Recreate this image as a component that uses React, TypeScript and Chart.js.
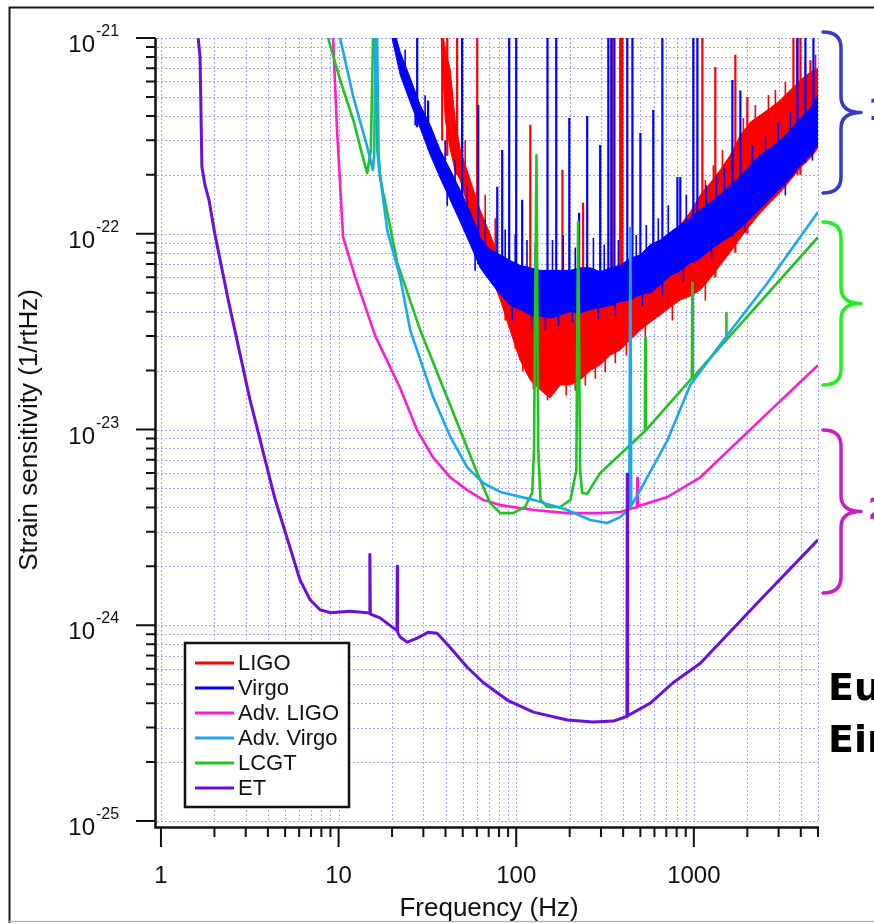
import React, { useEffect, useRef } from 'react';
import { Chart, registerables } from 'chart.js';

Chart.register(...registerables);

// ---------------- data ----------------
const seriesLabels = ['LIGO', 'Virgo', 'Adv. LIGO', 'Adv. Virgo', 'LCGT', 'ET'];
const seriesColors = ['#ff0000', '#0000ff', '#ff1ccf', '#1aa8f0', '#1fc41f', '#6a0fdc'];

// LIGO noise band (upper / lower envelope), narrow lines and edge jags
const ligoFreq = [37.8, 39.9, 42.5, 45.3, 48.4, 55.1, 62.7, 71.4, 81.3, 92.5, 105, 120, 137, 155, 177, 201, 229, 261, 297, 339, 385, 439, 500, 569, 648, 737, 839, 955, 1088, 1239, 1410, 1606, 1828, 2081, 2370, 2698, 3071, 3497, 3981, 4532, 5000];
const ligoUpper = [1.2e-21, 8.7e-22, 6.9e-22, 3.8e-22, 2.7e-22, 1.88e-22, 1.32e-22, 9.9e-23, 7.3e-23, 6.2e-23, 5.2e-23, 4.9e-23, 4.6e-23, 4.6e-23, 4.3e-23, 4.6e-23, 4.6e-23, 4.6e-23, 4.9e-23, 5.2e-23, 5.5e-23, 6.2e-23, 6.9e-23, 7.8e-23, 8.8e-23, 9.9e-23, 1.11e-22, 1.29e-22, 1.58e-22, 1.82e-22, 2.12e-22, 2.53e-22, 3.19e-22, 3.72e-22, 4.04e-22, 4.39e-22, 4.82e-22, 5.42e-22, 6.1e-22, 6.7e-22, 7.0e-22];
const ligoLower = [1.0e-21, 3.8e-22, 2.7e-22, 2.1e-22, 1.88e-22, 1.25e-22, 8.8e-23, 6.2e-23, 4.6e-23, 3.2e-23, 2.27e-23, 1.79e-23, 1.59e-23, 1.45e-23, 1.69e-23, 1.69e-23, 1.79e-23, 2.0e-23, 2.14e-23, 2.4e-23, 2.55e-23, 2.87e-23, 3.22e-23, 3.54e-23, 3.85e-23, 4.22e-23, 4.59e-23, 4.81e-23, 5.16e-23, 5.94e-23, 6.92e-23, 8.07e-23, 9.51e-23, 1.11e-22, 1.28e-22, 1.45e-22, 1.63e-22, 1.88e-22, 2.17e-22, 2.44e-22, 2.74e-22];
const ligoLineFreq = [38.3, 40.9, 46.5, 60.3, 120, 182, 238, 347, 385, 396, 1117, 1321, 1713, 2001, 3636, 3828, 3981, 4532];
const ligoLineTop = [1.2e-21, 1.2e-21, 1.2e-21, 1.2e-21, 3.6e-22, 2.12e-22, 1.44e-22, 1.2e-21, 1.2e-21, 1.2e-21, 1.2e-21, 7.1e-22, 8.2e-22, 5.0e-22, 1.2e-21, 1.2e-21, 1.2e-21, 7.7e-22];
const ligoLineBase = [3.0e-22, 2.5e-22, 2.0e-22, 1.0e-22, 2.5e-23, 2.5e-23, 2.5e-23, 3.0e-23, 3.0e-23, 3.0e-23, 6.0e-23, 6.0e-23, 8.0e-23, 1.0e-22, 2.0e-22, 2.0e-22, 2.0e-22, 2.6e-22];
const ligoJagFreq = [51.6, 66.9, 76.2, 86.7, 98.7, 109, 125, 133, 150, 162, 191, 215, 245, 279, 317, 361, 417, 533, 757, 1161, 1161, 1288, 1449, 1901, 2220, 2630, 2878, 3275, 4246, 4842];
const ligoJagFrom = [2.0e-22, 1.0e-22, 7.5e-23, 5.16e-23, 4.0e-23, 3.5e-23, 3.0e-23, 3.0e-23, 3.0e-23, 3.0e-23, 3.0e-23, 3.0e-23, 3.0e-23, 3.2e-23, 3.4e-23, 3.6e-23, 3.9e-23, 4.5e-23, 5.5e-23, 8.0e-23, 1.3e-22, 1.5e-22, 1.7e-22, 2.2e-22, 2.6e-22, 3.0e-22, 3.2e-22, 3.6e-22, 4.5e-22, 5.0e-22];
const ligoJagTo = [3.0e-22, 1.58e-22, 1.2e-22, 3.63e-23, 2.6e-23, 2.0e-23, 1.62e-23, 1.5e-23, 1.42e-23, 1.55e-23, 1.5e-23, 1.59e-23, 1.69e-23, 1.83e-23, 1.97e-23, 2.2e-23, 2.4e-23, 2.87e-23, 3.63e-23, 4.59e-23, 1.88e-22, 2.24e-22, 2.68e-22, 3.9e-22, 4.55e-22, 5.11e-22, 5.42e-22, 5.96e-22, 7.54e-22, 8.2e-22];

// Virgo noise band, narrow lines and edge jags
const virgoFreq = [20.0, 22.2, 25.3, 28.8, 32.8, 37.3, 42.5, 48.4, 55.1, 62.7, 71.4, 81.3, 92.5, 105, 120, 137, 155, 177, 201, 229, 261, 297, 339, 385, 439, 500, 569, 648, 737, 839, 955, 1088, 1239, 1410, 1606, 1828, 2081, 2370, 2698, 3071, 3497, 3981, 4532, 5000];
const virgoUpper = [1.2e-21, 8.5e-22, 6.25e-22, 4.55e-22, 3.59e-22, 2.68e-22, 2.12e-22, 1.67e-22, 1.29e-22, 9.5e-23, 8.3e-23, 7.8e-23, 7.3e-23, 6.9e-23, 6.7e-23, 6.5e-23, 6.5e-23, 6.5e-23, 6.5e-23, 6.7e-23, 6.7e-23, 6.4e-23, 6.7e-23, 6.9e-23, 7.5e-23, 7.8e-23, 8.8e-23, 9.3e-23, 1.02e-22, 1.11e-22, 1.2e-22, 1.32e-22, 1.45e-22, 1.58e-22, 1.77e-22, 1.97e-22, 2.24e-22, 2.53e-22, 2.74e-22, 3.01e-22, 3.39e-22, 3.9e-22, 4.39e-22, 5.1e-22];
const virgoLower = [1.0e-21, 6.5e-22, 4.7e-22, 3.47e-22, 2.53e-22, 1.93e-22, 1.49e-22, 1.15e-22, 8.8e-23, 6.7e-23, 5.7e-23, 4.9e-23, 4.3e-23, 4.1e-23, 3.85e-23, 3.8e-23, 3.7e-23, 3.85e-23, 4.0e-23, 3.94e-23, 4.1e-23, 4.2e-23, 4.3e-23, 4.5e-23, 4.6e-23, 4.9e-23, 5.0e-23, 5.5e-23, 6.1e-23, 6.5e-23, 7.1e-23, 7.5e-23, 8.3e-23, 9.0e-23, 9.7e-23, 1.07e-22, 1.2e-22, 1.35e-22, 1.52e-22, 1.71e-22, 1.93e-22, 2.24e-22, 2.53e-22, 2.84e-22];
const virgoLineFreq = [27.7, 31.9, 49.6, 61.1, 78.2, 83.4, 91.3, 100, 108, 150, 168, 199, 226, 251, 297, 330, 343, 357, 422, 451, 500, 591, 665, 808, 839, 993, 1047, 1648, 1828, 3828, 4246, 4713];
const virgoLineTop = [1.2e-21, 4.8e-22, 1.2e-21, 4.55e-22, 1.74e-22, 2.68e-22, 1.2e-21, 1.2e-21, 1.49e-22, 1.2e-21, 1.2e-21, 3.9e-22, 1.28e-22, 4.0e-22, 2.84e-22, 1.2e-21, 1.2e-21, 1.2e-21, 1.2e-21, 1.2e-21, 3.27e-22, 4.29e-22, 1.2e-21, 1.95e-22, 1.95e-22, 1.2e-21, 1.2e-21, 6.1e-22, 5.4e-22, 1.2e-21, 1.2e-21, 1.2e-21];
const virgoLineBase = [3.5e-22, 2.7e-22, 1.15e-22, 7.0e-23, 5.2e-23, 4.9e-23, 4.6e-23, 4.3e-23, 4.1e-23, 3.8e-23, 3.8e-23, 4.0e-23, 4.0e-23, 4.1e-23, 4.2e-23, 4.3e-23, 4.3e-23, 4.3e-23, 4.6e-23, 4.6e-23, 4.9e-23, 5.1e-23, 5.5e-23, 6.3e-23, 6.5e-23, 7.1e-23, 7.3e-23, 9.7e-23, 1.07e-22, 2.2e-22, 2.3e-22, 2.6e-22];
const virgoJagFreq = [23.7, 27.0, 30.7, 39.8, 40.9, 45.3, 53, 58.7, 66.9, 86.7, 95, 98.7, 115, 122, 128, 146, 160, 173, 184, 207, 215, 272, 290, 313, 361, 376, 474, 513, 540, 631, 665, 718, 873, 907, 1175, 1256, 1339, 1485, 1950, 2137, 2528, 2990, 3275, 3497, 4653];
const virgoJagFrom = [6.5e-22, 4.8e-22, 3.4e-22, 2.0e-22, 2.0e-22, 1.58e-22, 1.11e-22, 9.9e-23, 6.5e-23, 4.9e-23, 5.5e-23, 4.6e-23, 4.6e-23, 5.2e-23, 4.6e-23, 5.2e-23, 4.6e-23, 5.2e-23, 4.6e-23, 5.2e-23, 4.6e-23, 4.8e-23, 5.2e-23, 4.9e-23, 5.5e-23, 5.0e-23, 5.5e-23, 6.3e-23, 6.0e-23, 6.5e-23, 7.3e-23, 7.0e-23, 8.5e-23, 8.5e-23, 9.5e-23, 1.05e-22, 1.0e-22, 1.1e-22, 1.45e-22, 1.5e-22, 1.7e-22, 1.9e-22, 2.5e-22, 2.2e-22, 3.5e-22];
const virgoJagTo = [8.7e-22, 3.6e-22, 5.1e-22, 3.0e-22, 1.4e-22, 2.38e-22, 1.77e-22, 6.5e-23, 1.18e-22, 1.05e-22, 3.63e-23, 9.85e-23, 9.3e-23, 3.3e-23, 8.8e-23, 3.22e-23, 9.3e-23, 3.4e-23, 9.85e-23, 3.54e-23, 8.5e-23, 9.5e-23, 3.71e-23, 8.8e-23, 3.85e-23, 9.3e-23, 9.85e-23, 4.33e-23, 1.11e-22, 1.2e-22, 4.86e-23, 1.4e-22, 5.67e-23, 1.58e-22, 1.77e-22, 7.34e-23, 1.99e-22, 2.17e-22, 1.02e-22, 2.84e-22, 3.19e-22, 3.72e-22, 1.58e-22, 4.18e-22, 2.38e-22];

// Advanced LIGO
const advLigoFreq = [9.31, 9.8, 10.6, 12.4, 16.1, 22.2, 27.7, 34.0, 42.5, 53, 65.2, 81.3, 125, 194, 297, 385, 456, 478, 481, 484, 710, 1088, 2370, 5000];
const advLigoStrain = [1.0e-21, 3.4e-22, 9.6e-23, 6.0e-23, 3.0e-23, 1.63e-23, 9.9e-24, 7.2e-24, 5.7e-24, 4.9e-24, 4.37e-24, 4.11e-24, 3.88e-24, 3.74e-24, 3.74e-24, 3.79e-24, 3.97e-24, 4.0e-24, 5.65e-24, 4.05e-24, 4.52e-24, 5.7e-24, 1.12e-23, 2.13e-23];

// Advanced Virgo
const advVirgoFreq = [10.2, 12.1, 14.5, 15.6, 15.85, 16.3, 16.8, 17.1, 18.8, 22.2, 25.3, 34.0, 42.5, 53, 65.2, 81.3, 125, 194, 261, 326, 385, 433, 439, 444, 500, 710, 955, 1545, 2595, 5000];
const advVirgoStrain = [1.0e-21, 5.0e-22, 2.77e-22, 2.12e-22, 2.5e-22, 2.0e-21, 2.6e-22, 2.0e-22, 1.04e-22, 6.0e-23, 3.22e-23, 1.47e-23, 9.2e-24, 6.4e-24, 5.33e-24, 4.8e-24, 4.37e-24, 3.88e-24, 3.45e-24, 3.33e-24, 3.57e-24, 3.93e-24, 1.07e-22, 4.07e-24, 4.91e-24, 8.8e-24, 1.69e-23, 3.04e-23, 5.6e-23, 1.29e-22];

// LCGT
const lcgtFreq = [8.73, 10.2, 12.1, 13.6, 14.5, 15.2, 15.85, 16.5, 17.1, 18.8, 21.4, 28.8, 37.3, 48.4, 60.3, 71.4, 81.3, 96.2, 112, 123, 126, 130, 133, 137, 150, 177, 202, 218, 223, 229, 235, 251, 297, 530, 533, 536, 975, 980, 985, 1520, 1524, 1528, 5000];
const lcgtStrain = [1.0e-21, 6.1e-22, 3.81e-22, 2.52e-22, 2.04e-22, 2.68e-22, 2.0e-21, 2.68e-22, 1.95e-22, 1.28e-22, 7.1e-23, 3.22e-23, 1.79e-23, 9.9e-24, 6.0e-24, 4.21e-24, 3.74e-24, 3.74e-24, 4.02e-24, 4.74e-24, 8.0e-24, 2.52e-22, 8.0e-24, 4.37e-24, 4.02e-24, 4.02e-24, 4.37e-24, 6.2e-24, 1.15e-22, 6.2e-24, 4.74e-24, 4.7e-24, 6.0e-24, 9.8e-24, 2.93e-23, 9.9e-24, 1.83e-23, 5.6e-23, 1.84e-23, 2.86e-23, 3.94e-23, 2.87e-23, 9.6e-23];

// Einstein Telescope
const etFreq = [1.62, 1.66, 1.70, 1.77, 1.86, 2.01, 2.39, 3.17, 4.39, 6.07, 6.91, 7.86, 8.96, 11.6, 14.5, 14.9, 15.0, 15.1, 17.1, 20.3, 21.3, 21.4, 21.5, 22.2, 24.3, 27.7, 31.9, 35.9, 42.5, 53, 65.2, 89, 125, 194, 271, 352, 411, 420, 422, 424, 569, 767, 1088, 2370, 5000];
const etStrain = [1.0e-21, 8.0e-22, 2.2e-22, 1.77e-22, 1.5e-22, 1.0e-22, 4.6e-23, 1.42e-23, 4.4e-24, 1.7e-24, 1.35e-24, 1.2e-24, 1.16e-24, 1.18e-24, 1.16e-24, 1.15e-24, 2.3e-24, 1.14e-24, 1.09e-24, 9.7e-25, 9.4e-25, 2.0e-24, 9.2e-25, 8.7e-25, 8.2e-25, 8.6e-25, 9.2e-25, 9.1e-25, 7.7e-25, 6.1e-25, 5.1e-25, 4.15e-25, 3.6e-25, 3.28e-25, 3.2e-25, 3.24e-25, 3.4e-25, 3.42e-25, 5.9e-24, 3.45e-25, 4.0e-25, 5.1e-25, 6.4e-25, 1.35e-24, 2.73e-24];

// axes
const xMin = 0.95;
const xMax = 5000;
const yMin = 1e-25;
const yMax = 1e-21;
const xMajorTicks = [1, 10, 100, 1000];
const xTickLabels = ['1', '10', '100', '1000'];
const xDecades = [1, 10, 100, 1000];
const yMajorTicks = [1e-21, 1e-22, 1e-23, 1e-24, 1e-25];
const yTickExponents = ['-21', '-22', '-23', '-24', '-25'];
const yDecades = [1e-25, 1e-24, 1e-23, 1e-22];
const minorMultipliers = [2, 3, 4, 5, 6, 7, 8, 9];
const xTitle = 'Frequency (Hz)';
const yTitle = 'Strain sensitivity (1/rtHz)';

// right-hand annotations
const braceColors = ['#3a3ac8', '#22ee22', '#c81ec8'];
const braceTexts = ['1st generation', '', '2nd generation'];
const sideTextLines = ['European', 'Einstein Telescope'];

// ---------------- helpers ----------------
const FONT = "'Liberation Sans', Arial, Helvetica, sans-serif";

function pts(xs: number[], ys: number[]) {
  return xs.map((x, i) => ({ x, y: ys[i] }));
}
function lines(fs: number[], ends: number[], starts: number[]) {
  const out: any[] = [];
  fs.forEach((f, i) => {
    out.push({ x: f, y: starts[i] }, { x: f, y: ends[i] }, { x: f, y: null });
  });
  return out;
}
function minorValues(decades: number[], limit: number) {
  const out: number[] = [];
  decades.forEach((d) => minorMultipliers.forEach((m) => { if (d * m <= limit * 1.0001) out.push(d * m); }));
  return out;
}

const decorPlugin = {
  id: 'decor',
  beforeDatasetsDraw(chart: any) {
    const { ctx, chartArea: a, scales } = chart;
    const x = scales.x, y = scales.y;
    ctx.save();
    ctx.beginPath();
    ctx.rect(a.left, a.top - 1, a.right - a.left + 1, a.bottom - a.top + 2);
    ctx.clip();
    ctx.strokeStyle = '#a6a6f8';
    ctx.lineWidth = 1;
    ctx.setLineDash([2, 2]);
    const xs = [...xMajorTicks, ...minorValues(xDecades, xMax)];
    const ys = [...yMajorTicks, ...minorValues(yDecades, yMax)];
    ctx.beginPath();
    xs.forEach((v) => {
      const px = Math.round(x.getPixelForValue(v)) + 0.5;
      ctx.moveTo(px, a.top);
      ctx.lineTo(px, a.bottom);
    });
    ys.forEach((v) => {
      const py = Math.round(y.getPixelForValue(v)) + 0.5;
      ctx.moveTo(a.left, py);
      ctx.lineTo(a.right, py);
    });
    ctx.stroke();
    ctx.restore();
  },
  afterDraw(chart: any) {
    const { ctx, chartArea: a, scales } = chart;
    const x = scales.x, y = scales.y;
    ctx.save();
    ctx.setLineDash([]);

    // outer frame
    ctx.strokeStyle = '#1a1a1a';
    ctx.lineWidth = 2;
    ctx.beginPath();
    ctx.moveTo(9.5, 923);
    ctx.lineTo(9.5, 7.5);
    ctx.lineTo(874, 7.5);
    ctx.stroke();
    ctx.strokeStyle = '#b8b8b8';
    ctx.lineWidth = 1.5;
    ctx.beginPath();
    ctx.moveTo(9, 921.5);
    ctx.lineTo(874, 921.5);
    ctx.stroke();

    // axis lines
    const axisX = 155.5;
    const axisY = 827.5;
    ctx.strokeStyle = '#111';
    ctx.lineWidth = 2.5;
    ctx.beginPath();
    ctx.moveTo(axisX, a.top);
    ctx.lineTo(axisX, axisY + 1.2);
    ctx.moveTo(axisX - 1.2, axisY);
    ctx.lineTo(a.right + 1, axisY);
    ctx.stroke();

    // ticks
    ctx.lineWidth = 2;
    ctx.beginPath();
    yMajorTicks.forEach((v) => {
      const py = y.getPixelForValue(v);
      ctx.moveTo(136, py);
      ctx.lineTo(axisX, py);
    });
    minorValues(yDecades, yMax).forEach((v) => {
      const py = y.getPixelForValue(v);
      ctx.moveTo(146, py);
      ctx.lineTo(axisX, py);
    });
    xMajorTicks.forEach((v) => {
      const px = x.getPixelForValue(v);
      ctx.moveTo(px, axisY);
      ctx.lineTo(px, 847);
    });
    minorValues(xDecades, xMax).forEach((v) => {
      const px = x.getPixelForValue(v);
      ctx.moveTo(px, axisY);
      ctx.lineTo(px, 837);
    });
    ctx.stroke();

    // y tick labels 10^n
    ctx.fillStyle = '#111';
    yMajorTicks.forEach((v, i) => {
      const py = y.getPixelForValue(v);
      ctx.font = `24px ${FONT}`;
      ctx.textAlign = 'right';
      ctx.textBaseline = 'alphabetic';
      ctx.fillText('10', 95, py + 14);
      ctx.font = `16px ${FONT}`;
      ctx.textAlign = 'left';
      ctx.fillText(yTickExponents[i], 96, py - 2);
    });
    // x tick labels
    ctx.font = `24px ${FONT}`;
    ctx.textAlign = 'center';
    xMajorTicks.forEach((v, i) => {
      ctx.fillText(xTickLabels[i], x.getPixelForValue(v), 883);
    });
    // titles
    ctx.font = `26px ${FONT}`;
    ctx.fillText(xTitle, 489, 916);
    ctx.save();
    ctx.translate(37, 430);
    ctx.rotate(-Math.PI / 2);
    ctx.fillText(yTitle, 0, 0);
    ctx.restore();

    // legend
    const lx = 185, ly = 643, lw = 164, lh = 164;
    ctx.fillStyle = '#fff';
    ctx.fillRect(lx, ly, lw, lh);
    ctx.strokeStyle = '#111';
    ctx.lineWidth = 2.5;
    ctx.strokeRect(lx, ly, lw, lh);
    ctx.font = `22px ${FONT}`;
    ctx.textAlign = 'left';
    ctx.textBaseline = 'middle';
    seriesLabels.forEach((lab, i) => {
      const ry = 663 + i * 25;
      ctx.strokeStyle = seriesColors[i];
      ctx.lineWidth = 3;
      ctx.beginPath();
      ctx.moveTo(195, ry);
      ctx.lineTo(234, ry);
      ctx.stroke();
      ctx.fillStyle = '#111';
      ctx.fillText(lab, 238, ry + 1);
    });

    // braces on the right
    const braces = [[32, 193], [222, 385], [430, 593]];
    braces.forEach(([T, B], i) => {
      const M = (T + B) / 2;
      const x0 = 823, xs = 841, xt = 861, r = 16;
      ctx.strokeStyle = braceColors[i];
      ctx.lineWidth = 3.5;
      ctx.lineCap = 'round';
      ctx.lineJoin = 'round';
      ctx.beginPath();
      ctx.moveTo(x0, T);
      ctx.quadraticCurveTo(xs, T, xs, T + r);
      ctx.lineTo(xs, M - r);
      ctx.quadraticCurveTo(xs, M, xt, M);
      ctx.quadraticCurveTo(xs, M, xs, M + r);
      ctx.lineTo(xs, B - r);
      ctx.quadraticCurveTo(xs, B, x0, B);
      ctx.stroke();
      if (braceTexts[i]) {
        ctx.fillStyle = braceColors[i];
        ctx.font = `bold 30px 'DejaVu Sans', sans-serif`;
        ctx.textBaseline = 'middle';
        ctx.fillText(braceTexts[i], 868, M);
      }
    });

    ctx.fillStyle = '#000';
    ctx.textBaseline = 'alphabetic';
    ctx.font = `bold 38px 'DejaVu Sans', sans-serif`;
    sideTextLines.forEach((t, i) => ctx.fillText(t, 828, 700 + i * 52));

    ctx.restore();
  },
};

export default function App() {
  const ref = useRef<HTMLCanvasElement | null>(null);
  useEffect(() => {
    if (!ref.current) return;
    const C = seriesColors;
    const chart = new Chart(ref.current, {
      type: 'line',
      data: {
        datasets: [
          { label: 'LIGO', data: pts(ligoFreq, ligoUpper), borderColor: C[0], backgroundColor: C[0], borderWidth: 1, fill: '+1', order: 5 },
          { label: 'LIGO lower', data: pts(ligoFreq, ligoLower), borderColor: C[0], backgroundColor: C[0], borderWidth: 1, fill: false, order: 5 },
          { label: 'LIGO lines', data: lines(ligoLineFreq, ligoLineTop, ligoLineBase), borderColor: C[0], borderWidth: 2.2, fill: false, spanGaps: false, order: 5 },
          { label: 'LIGO jags', data: lines(ligoJagFreq, ligoJagTo, ligoJagFrom), borderColor: C[0], borderWidth: 1.6, fill: false, spanGaps: false, order: 5 },
          { label: 'Virgo', data: pts(virgoFreq, virgoUpper), borderColor: C[1], backgroundColor: C[1], borderWidth: 1, fill: '+1', order: 4 },
          { label: 'Virgo lower', data: pts(virgoFreq, virgoLower), borderColor: C[1], backgroundColor: C[1], borderWidth: 1, fill: false, order: 4 },
          { label: 'Virgo lines', data: lines(virgoLineFreq, virgoLineTop, virgoLineBase), borderColor: C[1], borderWidth: 2.2, fill: false, spanGaps: false, order: 4 },
          { label: 'Virgo jags', data: lines(virgoJagFreq, virgoJagTo, virgoJagFrom), borderColor: C[1], borderWidth: 1.6, fill: false, spanGaps: false, order: 4 },
          { label: 'Adv. LIGO', data: pts(advLigoFreq, advLigoStrain), borderColor: C[2], borderWidth: 2.6, fill: false, order: 3 },
          { label: 'Adv. Virgo', data: pts(advVirgoFreq, advVirgoStrain), borderColor: C[3], borderWidth: 2.6, fill: false, order: 1 },
          { label: 'LCGT', data: pts(lcgtFreq, lcgtStrain), borderColor: C[4], borderWidth: 2.6, fill: false, order: 2 },
          { label: 'ET', data: pts(etFreq, etStrain), borderColor: C[5], borderWidth: 3, fill: false, order: 0 },
        ] as any,
      },
      options: {
        responsive: false,
        animation: false,
        events: [],
        layout: { padding: { left: 157, top: 38, right: 56, bottom: 102 } },
        elements: { point: { radius: 0 }, line: { tension: 0, borderJoinStyle: 'round' } },
        plugins: { legend: { display: false }, tooltip: { enabled: false }, title: { display: false } },
        scales: {
          x: { type: 'logarithmic', min: xMin, max: xMax, display: false },
          y: { type: 'logarithmic', min: yMin, max: yMax, display: false },
        },
      } as any,
      plugins: [decorPlugin],
    });
    return () => chart.destroy();
  }, []);
  return (
    <div style={{ position: 'fixed', left: 0, top: 0, width: 874, height: 923, background: '#fff', overflow: 'hidden' }}>
      <canvas ref={ref} width={874} height={923} style={{ display: 'block', width: 874, height: 923 }} />
    </div>
  );
}
